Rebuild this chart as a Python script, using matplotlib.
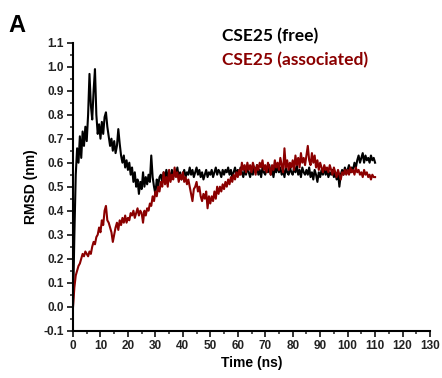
import numpy as np
import matplotlib
matplotlib.use("Agg")
import matplotlib.pyplot as plt
from matplotlib.ticker import MultipleLocator

# Time grid (ns), 0.5 ns sampling
time_ns = np.linspace(0, 110, 221)

rmsd_free = [
    0.00, 0.30, 0.55, 0.66, 0.60, 0.71, 0.62, 0.73, 0.67, 0.75,
    0.69, 0.80, 0.97, 0.84, 0.78, 0.90, 0.99, 0.80, 0.72, 0.76,
    0.70, 0.77, 0.72, 0.79, 0.81, 0.75, 0.71, 0.67, 0.70, 0.65,
    0.69, 0.64, 0.67, 0.74, 0.68, 0.63, 0.60, 0.63, 0.58, 0.61,
    0.57, 0.60, 0.55, 0.58, 0.52, 0.56, 0.50, 0.53, 0.47, 0.52,
    0.49, 0.56, 0.50, 0.54, 0.51, 0.55, 0.52, 0.63, 0.54, 0.50,
    0.47, 0.53, 0.50, 0.54, 0.55, 0.52, 0.56, 0.53, 0.57, 0.54,
    0.56, 0.53, 0.57, 0.54, 0.56, 0.55, 0.58, 0.54, 0.56, 0.53,
    0.55, 0.57, 0.54, 0.56, 0.55, 0.58, 0.55, 0.57, 0.54, 0.56,
    0.58, 0.55, 0.57, 0.54, 0.56, 0.53, 0.55, 0.57, 0.54, 0.56,
    0.55, 0.57, 0.54, 0.56, 0.58, 0.55, 0.57, 0.56, 0.54, 0.57,
    0.55, 0.57, 0.56, 0.58, 0.55, 0.57, 0.54, 0.56, 0.58, 0.55,
    0.57, 0.55, 0.58, 0.56, 0.54, 0.57, 0.55, 0.58, 0.56, 0.54,
    0.57, 0.55, 0.58, 0.56, 0.59, 0.55, 0.57, 0.54, 0.58, 0.56,
    0.55, 0.58, 0.56, 0.59, 0.55, 0.57, 0.54, 0.58, 0.56, 0.59,
    0.56, 0.58, 0.55, 0.57, 0.54, 0.58, 0.56, 0.55, 0.58, 0.56,
    0.55, 0.58, 0.56, 0.59, 0.55, 0.57, 0.54, 0.58, 0.56, 0.55,
    0.57, 0.55, 0.58, 0.54, 0.56, 0.53, 0.57, 0.55, 0.52, 0.56,
    0.54, 0.57, 0.55, 0.58, 0.55, 0.57, 0.54, 0.56, 0.55, 0.57,
    0.54, 0.56, 0.53, 0.56, 0.50, 0.55, 0.57, 0.55, 0.58, 0.56,
    0.57, 0.59, 0.56, 0.58, 0.57, 0.60, 0.58, 0.61, 0.63, 0.60,
    0.62, 0.64, 0.60, 0.63, 0.61, 0.62, 0.60, 0.63, 0.61, 0.62,
    0.60,
]

rmsd_assoc = [
    0.00, 0.08, 0.13, 0.15, 0.17, 0.18, 0.20, 0.22, 0.21, 0.23,
    0.22, 0.21, 0.23, 0.22, 0.25, 0.27, 0.26, 0.29, 0.30, 0.33,
    0.31, 0.36, 0.34, 0.40, 0.42, 0.36, 0.35, 0.33, 0.31, 0.27,
    0.30, 0.33, 0.35, 0.32, 0.36, 0.34, 0.37, 0.35, 0.38, 0.35,
    0.37, 0.36, 0.39, 0.38, 0.40, 0.37, 0.39, 0.41, 0.38, 0.40,
    0.39, 0.35, 0.40, 0.38, 0.41, 0.40, 0.43, 0.42, 0.46, 0.44,
    0.48, 0.46, 0.50, 0.48, 0.52, 0.50, 0.56, 0.51, 0.54, 0.50,
    0.57, 0.52, 0.55, 0.53, 0.58, 0.54, 0.56, 0.52, 0.55, 0.53,
    0.56, 0.52, 0.54, 0.51, 0.53, 0.50, 0.47, 0.44, 0.49, 0.50,
    0.52, 0.48, 0.50, 0.46, 0.44, 0.47, 0.45, 0.48, 0.41, 0.46,
    0.43, 0.46, 0.44, 0.48, 0.45, 0.50, 0.47, 0.50, 0.48, 0.51,
    0.49, 0.52, 0.50, 0.53, 0.51, 0.54, 0.52, 0.55, 0.53, 0.56,
    0.54, 0.57, 0.55, 0.60, 0.57, 0.59, 0.56, 0.60, 0.57, 0.59,
    0.56, 0.60, 0.58, 0.55, 0.59, 0.57, 0.60, 0.58, 0.61, 0.57,
    0.59, 0.56, 0.60, 0.58, 0.55, 0.59, 0.57, 0.61, 0.58, 0.60,
    0.57, 0.62, 0.59, 0.56, 0.66, 0.58, 0.61, 0.57, 0.60, 0.58,
    0.61, 0.57, 0.63, 0.59, 0.62, 0.58, 0.64, 0.60, 0.62, 0.59,
    0.63, 0.67, 0.61, 0.59, 0.64, 0.60, 0.63, 0.58, 0.61, 0.57,
    0.60, 0.58, 0.56, 0.59, 0.57, 0.58, 0.56, 0.59, 0.57, 0.55,
    0.58, 0.56, 0.54, 0.57, 0.55, 0.53, 0.56, 0.55, 0.57, 0.55,
    0.57, 0.55, 0.58, 0.56, 0.57, 0.55, 0.58, 0.56, 0.57, 0.55,
    0.56, 0.54, 0.57, 0.55, 0.56, 0.54, 0.55, 0.53, 0.55, 0.54,
    0.54,
]

series_labels = ["CSE25 (free)", "CSE25 (associated)"]
series_colors = ["#000000", "#8b0000"]

plt.rcParams['font.family'] = ['Liberation Sans', 'DejaVu Sans']

fig = plt.figure(figsize=(4.42, 3.78), dpi=100)
ax = fig.add_axes([73/442, 1 - 330.7/378, (430 - 73)/442, (330.7 - 42.7)/378])

ax.plot(time_ns, rmsd_free, color=series_colors[0], lw=1.5)
ax.plot(time_ns, rmsd_assoc, color=series_colors[1], lw=1.5)

ax.set_xlim(0, 130)
ax.set_ylim(-0.1, 1.1)
ax.xaxis.set_major_locator(MultipleLocator(10))
ax.xaxis.set_minor_locator(MultipleLocator(5))
ax.yaxis.set_major_locator(MultipleLocator(0.1))
ax.yaxis.set_minor_locator(MultipleLocator(0.05))
ax.yaxis.set_major_formatter(matplotlib.ticker.FormatStrFormatter('%.1f'))

for s in ['top', 'right']:
    ax.spines[s].set_visible(False)
for s in ['left', 'bottom']:
    ax.spines[s].set_linewidth(1.5)

ax.tick_params(which='major', direction='out', length=4.5, width=1.3,
               labelsize=8.5, colors='#222222', pad=2)
ax.tick_params(which='minor', direction='out', length=2.5, width=1.1, colors='#222222')
for lab in ax.get_xticklabels() + ax.get_yticklabels():
    lab.set_fontweight('bold')

ax.set_xlabel("Time (ns)", fontsize=10, fontweight='bold', labelpad=3)
ax.set_ylabel("RMSD (nm)", fontsize=10, fontweight='bold', labelpad=4)

fig.text(222/442, 1 - 36/378, series_labels[0], color=series_colors[0],
         fontsize=12.5, fontweight='bold', family=['Lato', 'DejaVu Sans'], va='center', ha='left')
fig.text(222/442, 1 - 60/378, series_labels[1], color=series_colors[1],
         fontsize=12.5, fontweight='bold', family=['Lato', 'DejaVu Sans'], va='center', ha='left')

fig.text(8/442, 1 - 25/378, "A", fontsize=17, fontweight='bold', va='center', ha='left')

fig.savefig("out.png", dpi=100)
